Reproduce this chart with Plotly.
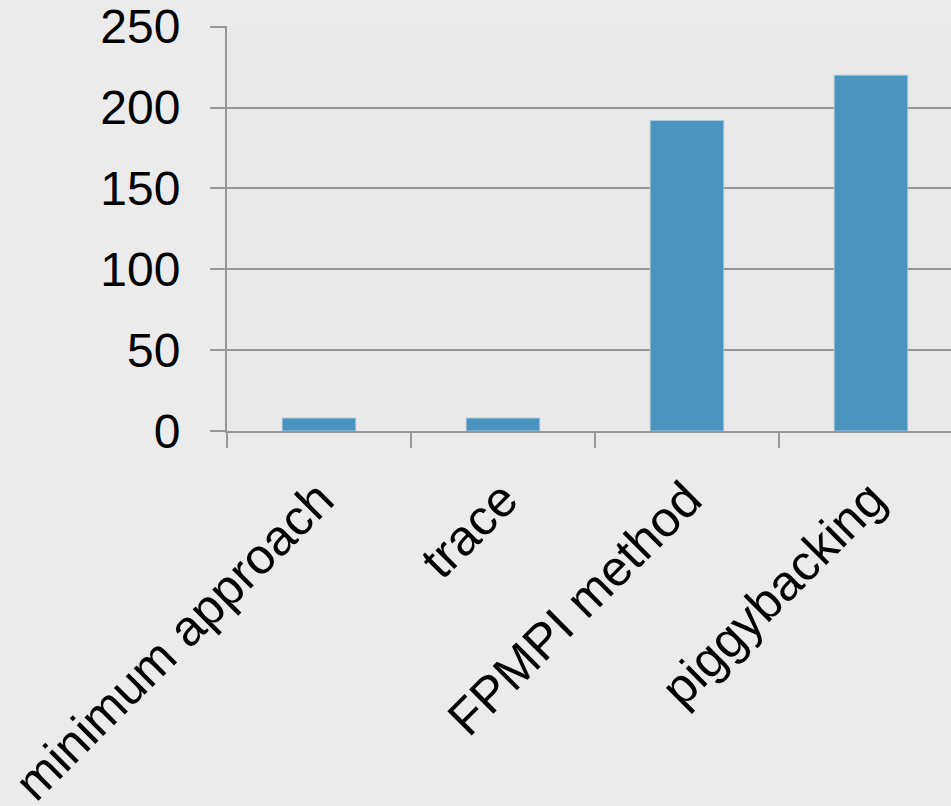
import plotly.graph_objects as go

categories = ["minimum approach", "trace", "FPMPI method", "piggybacking"]
values = [8, 8, 192, 220]
y_ticks = [0, 50, 100, 150, 200, 250]

GRID = "#979797"
FONT = "Liberation Sans, Arial, sans-serif"

fig = go.Figure(
    go.Bar(
        x=categories,
        y=values,
        width=0.4,
        marker=dict(color="#4a94bf", line=dict(color="#a6c9df", width=1)),
    )
)

fig.update_layout(
    width=951,
    height=806,
    margin=dict(l=227, r=0, t=26, b=375, autoexpand=False),
    paper_bgcolor="#ebebeb",
    plot_bgcolor="#e9e9e9",
    showlegend=False,
    font=dict(family=FONT, size=48, color="#000000"),
)

fig.update_xaxes(
    type="category",
    automargin=False,
    range=[-0.5, 3.435],
    showgrid=False,
    showline=True,
    linecolor=GRID,
    linewidth=2,
    ticks="outside",
    tickson="boundaries",
    ticklen=15,
    tickwidth=2,
    tickcolor=GRID,
    tickangle=-45,
    ticklabelstandoff=17,
    tickfont=dict(family=FONT, size=50, color="#000000"),
)

fig.update_yaxes(
    automargin=False,
    range=[0, 250.4],
    tickvals=y_ticks,
    showgrid=True,
    gridcolor=GRID,
    gridwidth=2,
    zeroline=False,
    showline=True,
    linecolor=GRID,
    linewidth=2,
    ticks="outside",
    ticklen=15,
    tickwidth=2,
    tickcolor=GRID,
    ticklabelstandoff=20,
    ticklabeloverflow="allow",
    tickfont=dict(family=FONT, size=48, color="#000000"),
)

fig.write_html("out.html")
